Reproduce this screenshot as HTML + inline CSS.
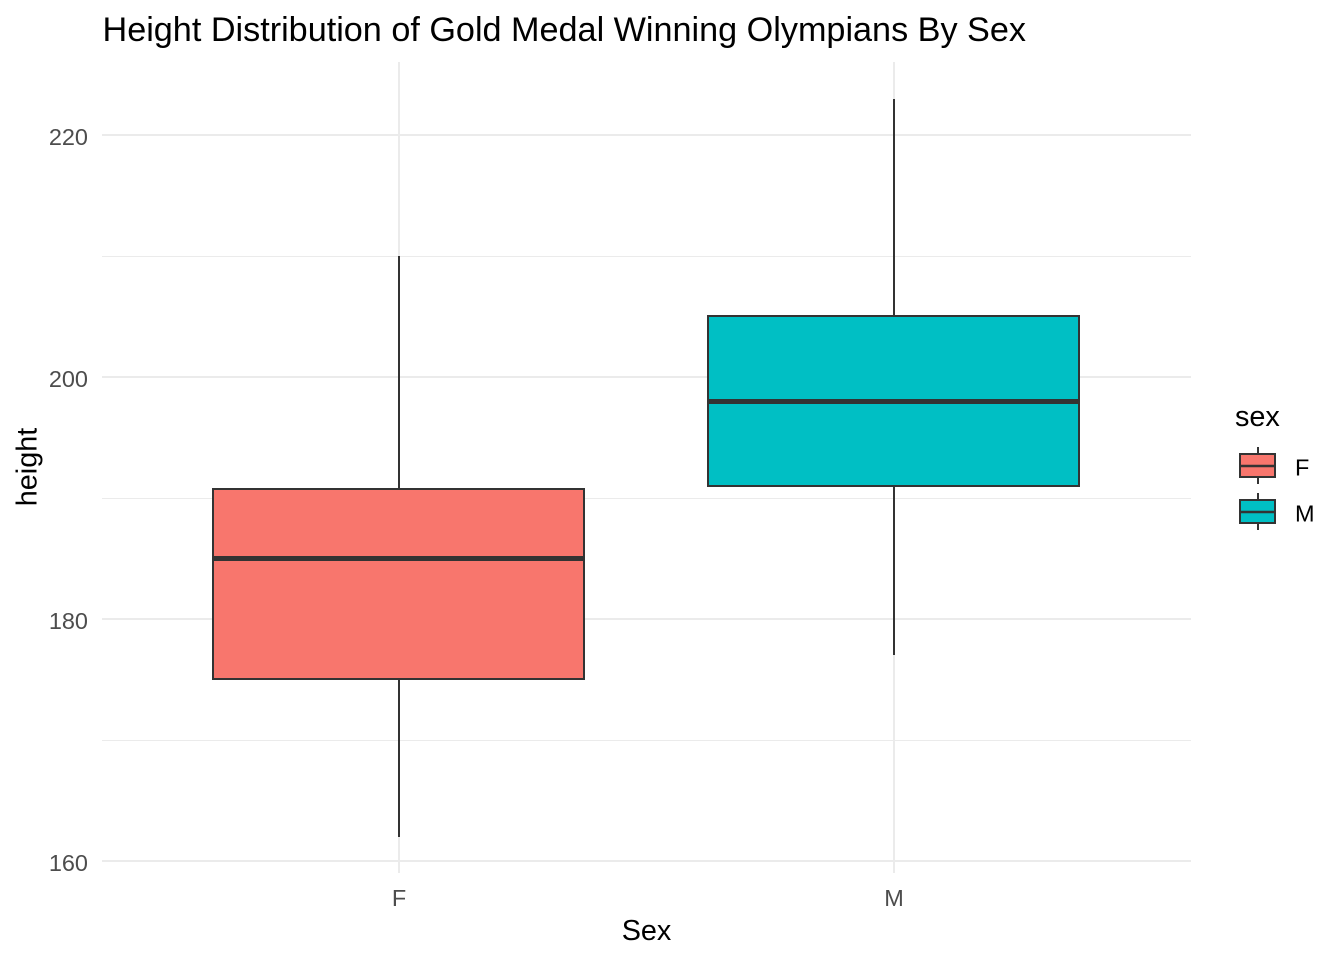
<!DOCTYPE html>
<html lang="en">
<head>
<meta charset="utf-8">
<title>Height Distribution of Gold Medal Winning Olympians By Sex</title>
<style>
html,body{margin:0;padding:0;background:#fff;width:1344px;height:960px;overflow:hidden}
svg{display:block;font-family:"Liberation Sans",Arial,sans-serif}
</style>
</head>
<body>
<svg id="chart" width="1344" height="960" viewBox="0 0 1344 960" xmlns="http://www.w3.org/2000/svg">
<rect x="0" y="0" width="1344" height="960" fill="#ffffff"/>
<text x="102.500" y="41" font-size="34.200" fill="#000">Height Distribution of Gold Medal Winning Olympians By Sex</text>
<text x="646.500" y="940" font-size="28.800" text-anchor="middle" fill="#000">Sex</text>
<text transform="translate(36.500 467) rotate(-90)" font-size="28.800" text-anchor="middle" fill="#000">height</text>
<g id="grid"></g>
<g id="ticks"></g>
<g id="boxes"></g>
<g id="legend">
<text x="1235" y="426" font-size="28.800" fill="#000">sex</text>
</g>
</svg>
<script>
const categories = ['F', 'M'];
const whiskerLow = [162, 177];
const q1 = [175, 191];
const medians = [185, 198];
const q3 = [190.75, 205];
const whiskerHigh = [210, 223];
const fills = ['#F8766D', '#00BFC4'];
const yTickLabels = [160, 180, 200, 220];
const yMinorTicks = [170, 190, 210];

const boxHalfWidth = 0.375;
const ink = '#333333';
const grid = document.getElementById('grid');
const ticks = document.getElementById('ticks');
const boxes = document.getElementById('boxes');
const legend = document.getElementById('legend');
const NS = 'http://www.w3.org/2000/svg';

function xScale(i) { return 399 + i * 495; }
function yScale(v) { return Math.round(860.9 - (v - 160) * 12.1); }

function make(tag, attrs, parent) {
  const el = document.createElementNS(NS, tag);
  for (const k in attrs) el.setAttribute(k, attrs[k]);
  parent.appendChild(el);
  return el;
}

yMinorTicks.forEach(function (v) {
  const el = make('line', { x1: 102, x2: 1191, y1: yScale(v) + 0.5, y2: yScale(v) + 0.5, stroke: '#ebebeb', 'stroke-width': 1 }, grid);
  
  
});

yTickLabels.forEach(function (v) {
  const el = make('line', { x1: 102, x2: 1191, y1: yScale(v), y2: yScale(v), stroke: '#ebebeb', 'stroke-width': 2 }, grid);
  
  
  const label = make('text', { x: 88, y: yScale(v) + 10, 'font-size': 23.470, 'text-anchor': 'end', fill: '#4d4d4d' }, ticks);
  label.textContent = String(v);
  
  
});

categories.forEach(function (c, i) {
  const gl = make('line', { x1: xScale(i), x2: xScale(i), y1: 62, y2: 873, stroke: '#ebebeb', 'stroke-width': 2 }, grid);
  
  
  const label = make('text', { x: xScale(i), y: 906, 'font-size': 23.470, 'text-anchor': 'middle', fill: '#4d4d4d' }, ticks);
  label.textContent = c;
  
  

  const x = xScale(i);
  const cx = x - 0.5;
  const hw = Math.round(boxHalfWidth * 495 * 2) / 2;
  const upper = make('line', { x1: x, x2: x, y1: yScale(whiskerHigh[i]), y2: yScale(q3[i]), stroke: ink, 'stroke-width': 2 }, boxes);
  
  
  const lower = make('line', { x1: x, x2: x, y1: yScale(q1[i]), y2: yScale(whiskerLow[i]), stroke: ink, 'stroke-width': 2 }, boxes);
  
  
  const box = make('rect', { x: cx - hw, y: yScale(q3[i]), width: hw * 2, height: yScale(q1[i]) - yScale(q3[i]), fill: fills[i], stroke: ink, 'stroke-width': 2 }, boxes);
  
  
  const med = make('line', { x1: cx - hw, x2: cx + hw, y1: yScale(medians[i]) + 0.5, y2: yScale(medians[i]) + 0.5, stroke: ink, 'stroke-width': 5 }, boxes);
  
  

  const top = 454 + i * 46;
  const wh = make('line', { x1: 1258, x2: 1258, y1: top - 7, y2: top + 30, stroke: ink, 'stroke-width': 2 }, legend);
  
  
  const key = make('rect', { x: 1240, y: top, width: 35, height: 23, fill: fills[i], stroke: ink, 'stroke-width': 2 }, legend);
  
  
  const km = make('line', { x1: 1240, x2: 1275, y1: top + 12, y2: top + 12, stroke: ink, 'stroke-width': 2.500 }, legend);
  
  
  const lt = make('text', { x: 1295, y: top + 21.500, 'font-size': 23.470, fill: '#000' }, legend);
  lt.textContent = c;
  
  
});
</script>
</body>
</html>
